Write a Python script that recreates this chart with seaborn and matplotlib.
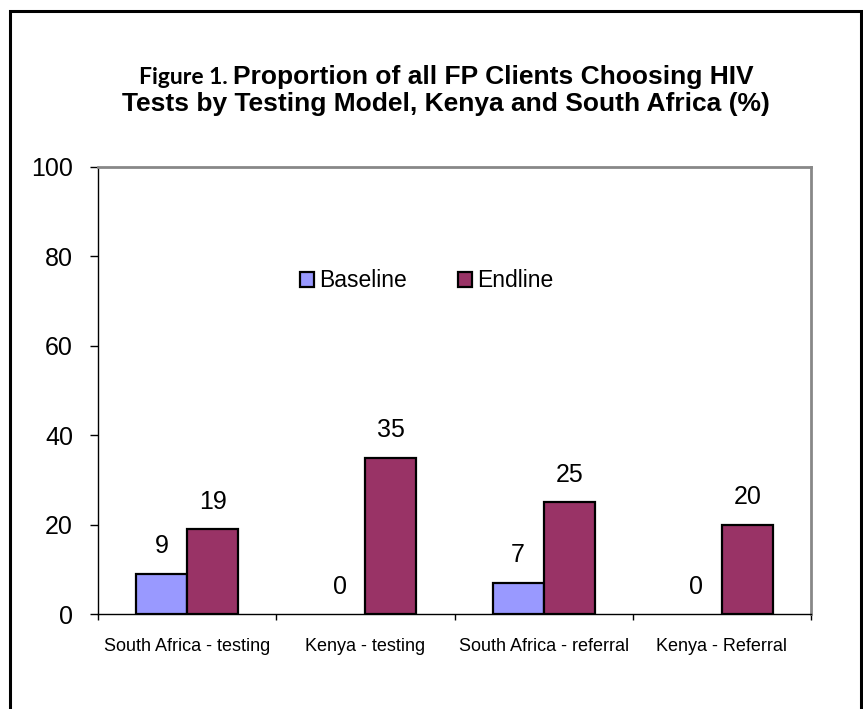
import pandas as pd
import matplotlib.pyplot as plt
from matplotlib import font_manager
from matplotlib.font_manager import FontProperties
from matplotlib.patches import Rectangle
import seaborn as sns

categories = ["South Africa - testing", "Kenya - testing", "South Africa - referral", "Kenya - Referral"]
series = ["Baseline", "Endline"]
baseline = [9, 0, 7, 0]
endline = [19, 35, 25, 20]
colors = ["#9999FF", "#993366"]
y_ticks = [0, 20, 40, 60, 80, 100]

df = pd.DataFrame({
    "categoria": categories * 2,
    "serie": [series[0]] * 4 + [series[1]] * 4,
    "valor": baseline + endline,
})

sns.set_style("white")
plt.rcParams["font.family"] = ["Liberation Sans", "DejaVu Sans"]
plt.rcParams["text.color"] = "black"
plt.rcParams["xtick.color"] = "black"
plt.rcParams["ytick.color"] = "black"

# procura o arquivo do Liberation Sans Bold (nao o Narrow)
bold_file = None
for f in font_manager.fontManager.ttflist:
    if f.name == "Liberation Sans" and "narrow" not in f.fname.lower() and f.weight in (700, "bold") and f.style == "normal":
        bold_file = f.fname
        break
if bold_file:
    title_fp = FontProperties(fname=bold_file, size=19)
else:
    title_fp = FontProperties(family="DejaVu Sans", weight="bold", size=17)

W, H = 863, 709
fig = plt.figure(figsize=(W / 100, H / 100), dpi=100)
ax = fig.add_axes([98 / W, 95 / H, 713 / W, 447 / H])

sns.barplot(data=df, x="categoria", y="valor", hue="serie", order=categories, hue_order=series,
            palette=colors, width=0.573, edgecolor="black", linewidth=1.6, saturation=1, ax=ax)

# barras de altura zero nao aparecem
for p in ax.patches:
    if p.get_height() == 0:
        p.set_linewidth(0)

for cont in ax.containers:
    ax.bar_label(cont, fmt="%g", padding=11, fontsize=18, color="black")

ax.set_xlim(-0.5, 3.5)
ax.set_ylim(0, 100)
ax.set_yticks(y_ticks)
ax.set_xlabel("")
ax.set_ylabel("")

ax.tick_params(axis="y", which="major", direction="out", length=6, width=1, color="black",
               labelcolor="black", pad=12, labelsize=18, left=True)
ax.tick_params(axis="x", which="major", length=0, pad=17, labelsize=13, labelcolor="black")
ax.set_xticks([-0.5, 0.5, 1.5, 2.5, 3.5], minor=True)
ax.tick_params(axis="x", which="minor", direction="out", length=4, width=1, color="black", bottom=True)

for s in ["left", "bottom"]:
    ax.spines[s].set_color("black")
    ax.spines[s].set_linewidth(1)
for s in ["top", "right"]:
    ax.spines[s].set_color("#888888")
    ax.spines[s].set_linewidth(2)

handles, labels = ax.get_legend_handles_labels()
leg = ax.legend(handles, labels, loc="center", bbox_to_anchor=(0.461, 0.745), ncol=2, frameon=False,
                fontsize=16.5, handlelength=0.62, handleheight=0.62, handletextpad=0.25, columnspacing=2.2,
                labelcolor="black")
for h in leg.legend_handles:
    h.set_edgecolor("black")
    h.set_linewidth(1.6)

# titulo com duas fontes na primeira linha
cx = 446 / W
t_a = fig.text(0, 1 - 84 / H, "Figure 1. ", family=["Lato", "DejaVu Sans"], weight="bold", fontsize=16.5,
               va="baseline", color="black")
t_b = fig.text(0, 1 - 84 / H, "Proportion of all FP Clients Choosing HIV", fontproperties=title_fp,
               va="baseline", color="black")
fig.canvas.draw()
r = fig.canvas.get_renderer()
wa = t_a.get_window_extent(r).width / W
wb = t_b.get_window_extent(r).width / W
x0 = cx - (wa + wb) / 2
t_a.set_x(x0)
t_b.set_x(x0 + wa)
fig.text(cx, 1 - 111 / H, "Tests by Testing Model, Kenya and South Africa (%)", fontproperties=title_fp,
         ha="center", va="baseline", color="black")

fig.add_artist(Rectangle((10 / W, -0.05), 851 / W, 1.05 - 11 / H, transform=fig.transFigure,
                         fill=False, edgecolor="black", linewidth=2.2))

fig.savefig("out.png", dpi=100)
